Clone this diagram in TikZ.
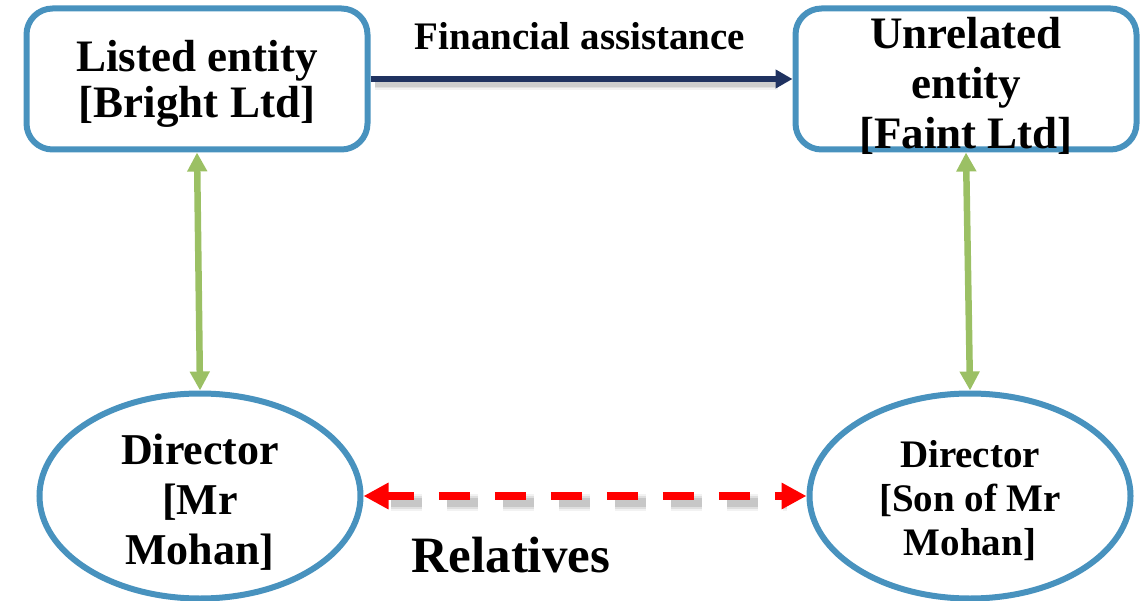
\documentclass[tikz,border=0pt]{standalone}
\usepackage{fontspec}
\setmainfont{Liberation Serif}
\usetikzlibrary{shapes.geometric,arrows.meta}
\definecolor{framblue}{RGB}{72,146,190}
\definecolor{navyline}{RGB}{31,50,96}
\definecolor{leafgreen}{RGB}{155,192,100}
\definecolor{relred}{RGB}{255,0,0}
\tikzset{
  entitybox/.style={draw=framblue, line width=6pt, rounded corners=26pt,
    minimum width=341pt, minimum height=141pt, inner sep=0pt},
  personoval/.style={draw=framblue, line width=6pt, ellipse,
    minimum width=321pt, minimum height=205pt, inner sep=0pt},
  boldtext/.style={align=center, inner sep=0pt, font=\bfseries},
  tiesline/.style={leafgreen, line width=6.5pt,
    {Triangle[length=19pt,width=19pt]}-{Triangle[length=19pt,width=19pt]}},
  fundline/.style={navyline, line width=6pt, -{Triangle[length=17pt,width=18pt]}},
  kinline/.style={relred, line width=8.5pt, dash pattern=on 31pt off 25pt, dash phase=4pt,
    {Triangle[length=25pt,width=25pt]}-{Triangle[length=25pt,width=25pt]}},
  haze/.style={draw=black, opacity=#1, line cap=butt},
}
\begin{document}
\begin{tikzpicture}[x=1pt,y=-1pt]
\useasboundingbox (0,0) rectangle (1142,601);

% entity boxes
\node[entitybox] (bright) at (197,79) {};
\node[entitybox] (faint) at (966,79) {};
% director ovals
\node[personoval] (mohan) at (200,496) {};
\node[personoval] (son) at (970,496) {};

% texts
\node[boldtext, font=\bfseries\fontsize{45}{46}\selectfont] (brighttxt) at (197,84) {Listed entity\\{}[Bright Ltd]};
\node[boldtext, font=\bfseries\fontsize{45}{50}\selectfont] (fainttxt) at (966,86) {Unrelated\\entity\\{}[Faint Ltd]};
\node[boldtext, font=\bfseries\fontsize{44}{50}\selectfont] (mohantxt) at (200,502) {Director\\{}[Mr\\Mohan]};
\node[boldtext, font=\bfseries\fontsize{39}{44}\selectfont] (sontxt) at (970,501) {Director\\{}[Son of Mr\\Mohan]};

% financial assistance with soft shadow
\coordinate (fa) at (bright.east);
\coordinate (fb) at (faint.west);
\foreach \o/\w in {0.05/13pt,0.07/9pt,0.09/6pt}
  \draw[haze=\o, line width=\w] ([shift={(4,5)}]fa) -- ([shift={(-15,5)}]fb);
\draw[fundline] (bright.east) -- (faint.west);
\node[anchor=base, inner sep=0pt, font=\bfseries\fontsize{39}{40}\selectfont] (fatxt) at (580,50) {Financial assistance};

% directorship links
\draw[tiesline] (bright.south) -- (mohan.north);
\draw[tiesline] (faint.south) -- (son.north);

% relatives link with soft shadow
\foreach \o/\w in {0.05/17pt,0.08/13pt,0.11/9pt}
  \draw[haze=\o, line width=\w, dash pattern=on 31pt off 25pt, dash phase=-19pt]
    ([shift={(8,6)}]mohan.east) -- ([shift={(-20,6)}]son.west);
\draw[kinline] (mohan.east) -- (son.west);
\node[anchor=base, inner sep=0pt, font=\bfseries\fontsize{51}{54}\selectfont] (reltxt) at (511,572) {Relatives};
\end{tikzpicture}
\end{document}
